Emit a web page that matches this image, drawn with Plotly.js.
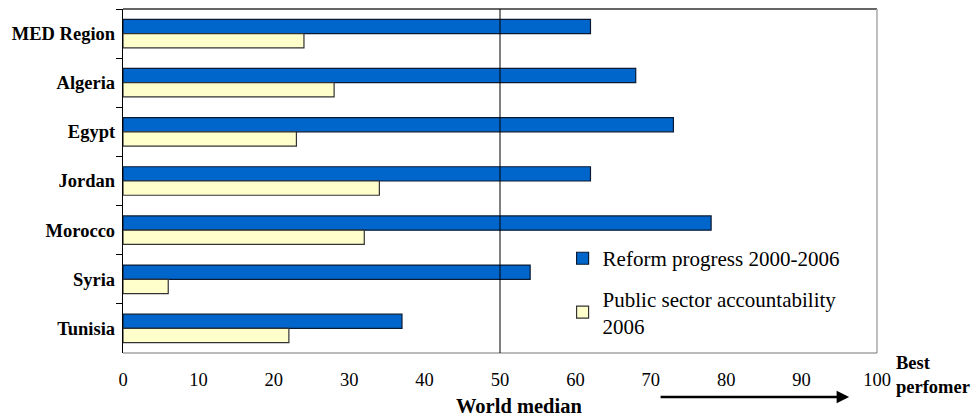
<!DOCTYPE html>
<html><head><meta charset="utf-8">
<script src="https://cdn.plot.ly/plotly-3.0.1.min.js"></script>
<style>body{margin:0;background:#fff}#c{width:971px;height:417px}</style>
</head><body><div id="c"></div>
<script>
const categories = ["MED Region","Algeria","Egypt","Jordan","Morocco","Syria","Tunisia"];
const reformProgress = [62,68,73,62,78,54,37];
const publicAccountability = [24,28,23,34,32,6,22];
const xTicks = [0,10,20,30,40,50,60,70,80,90,100];
const seriesNames = ["Reform progress 2000-2006","Public sector accountability<br>2006"];
const worldMedian = 50;

const F = "Liberation Serif";
const traces = [
  {type:"bar", orientation:"h", y:categories, x:reformProgress, name:seriesNames[0], legendgroup:"a",
   marker:{color:"#0066CC", line:{color:"#0a1a33", width:1.2}}},
  {type:"bar", orientation:"h", y:categories, x:publicAccountability, name:seriesNames[1], legendgroup:"b",
   marker:{color:"#FFFFCC", line:{color:"#333333", width:1.2}}}
];
const layout = {
  width:971, height:417,
  margin:{l:123, r:94, t:9, b:64},
  paper_bgcolor:"#fff", plot_bgcolor:"#fff",
  font:{family:F},
  barmode:"group", bargap:0.42, bargroupgap:0,
  showlegend:true,
  legend:{x:0.583, y:0.334, xanchor:"left", yanchor:"top", bgcolor:"rgba(0,0,0,0)",
          font:{family:F, size:21, color:"#000"}, tracegroupgap:10, itemwidth:30,
          traceorder:"grouped"},
  xaxis:{range:[0,100], tickvals:xTicks, showgrid:false, zeroline:false,
         showline:false, ticks:"", ticklabelstandoff:13,
         tickfont:{family:F, size:18.5, color:"#000"}},
  yaxis:{autorange:"reversed", showgrid:false, zeroline:false, showline:true,
         linecolor:"#000", linewidth:1.2, ticks:"outside", tickson:"boundaries",
         ticklen:6, tickcolor:"#000", ticklabelstandoff:3,
         tickfont:{family:F, size:18.5, color:"#000", weight:"bold"}},
  shapes:[
    {type:"line", xref:"paper", yref:"paper", x0:0, x1:1, y0:1, y1:1, line:{color:"#333", width:1.5}},
    {type:"line", xref:"paper", yref:"paper", x0:1, x1:1, y0:0, y1:1, line:{color:"#aaa", width:1.5}},
    {type:"line", xref:"paper", yref:"paper", x0:0, x1:1, y0:0, y1:0, line:{color:"#777", width:1.2}},
    {type:"line", xref:"x", yref:"paper", x0:worldMedian, x1:worldMedian, y0:0, y1:1, line:{color:"#000", width:1}}
  ],
  annotations:[
    {xref:"x", yref:"paper", x:52.5, y:0, yshift:-53, text:"<b>World median</b>", showarrow:false,
     font:{family:F, size:20.5, color:"#000"}, xanchor:"center", yanchor:"middle"},
    {xref:"paper", yref:"paper", x:1, xshift:17, y:0, yshift:-21.5, text:"<b>Best<br>perfomer</b>", showarrow:false,
     align:"left", font:{family:F, size:18.5, color:"#000"}, xanchor:"left", yanchor:"middle"},
    {xref:"x", yref:"paper", axref:"x", ayref:"pixel", x:96.3, y:0, yshift:-44, ax:71.1, ay:0,
     text:"", showarrow:true, arrowhead:2, arrowsize:1, arrowwidth:2.5, arrowcolor:"#000"}
  ]
};
Plotly.newPlot("c", traces, layout, {displayModeBar:false, staticPlot:true});
</script></body></html>
